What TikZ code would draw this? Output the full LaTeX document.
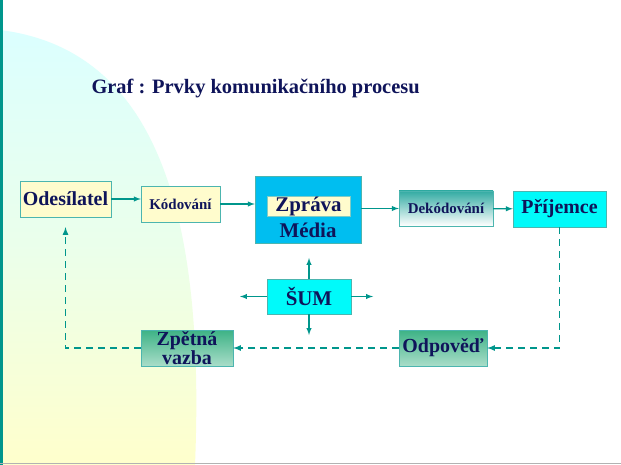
\documentclass[tikz,border=0pt]{standalone}
\usepackage{fontspec}
\setmainfont{Liberation Serif}
\usetikzlibrary{calc,positioning}
\definecolor{navy}{RGB}{15,20,90}
\definecolor{tealline}{RGB}{0,150,140}
\definecolor{paleyel}{RGB}{255,252,205}
\definecolor{media}{RGB}{0,190,240}
\definecolor{aqua}{RGB}{0,250,250}
\definecolor{greenbox}{RGB}{40,170,120}
\tikzset{
  box/.style={draw=tealline!70,font=\bfseries,text=navy,inner sep=1pt,minimum height=36bp},
  arr/.style={draw=tealline,line width=1.4pt,-latex},
  back/.style={arr,line width=1.6pt,dash pattern=on 7pt off 5pt}
}
\begin{document}
\begin{tikzpicture}[x=1bp,y=-1bp]
\useasboundingbox (0,0) rectangle (621,465);
\fill[white] (0,0) rectangle (621,465);
\shade[top color=cyan!14,bottom color=yellow!20,middle color=green!8]
  (0,30) .. controls (160,50) and (205,220) .. (195,465) -- (0,465) -- cycle;
\fill[tealline] (0,0) rectangle (3,465);
\draw[gray!60] (0,463) -- (621,463);
\node[anchor=west,font=\bfseries\fontsize{20.5}{22}\selectfont,text=navy] (title) at (88,89) {Graf : Prvky komunikačního procesu};
% top row
\node[box,fill=paleyel,minimum width=91bp,font=\bfseries\fontsize{20}{22}\selectfont] (odes) at (65.5,199) {Odesílatel};
\node[box,fill=paleyel,minimum width=79bp,font=\bfseries\fontsize{15}{17}\selectfont] (kod) at (180.5,204) {Kódování};
\node[box,fill=media,minimum width=106bp,minimum height=67bp] (zm) at (308,209.5) {};
\node[draw=tealline!50,fill=paleyel,minimum width=83bp,minimum height=20bp,inner sep=0pt,font=\bfseries\fontsize{21}{23}\selectfont,text=navy] (zpr) at (308.5,206) {Zpráva};
\node[font=\bfseries\fontsize{21}{23}\selectfont,text=navy] (med) at (308,230) {Média};
\node[box,top color=tealline!80,bottom color=white,minimum width=94bp,minimum height=35bp,font=\bfseries\fontsize{15}{17}\selectfont] (dek) at (446,208.5) {Dekódování};
\node[box,fill=aqua,minimum width=93bp,font=\bfseries\fontsize{20}{22}\selectfont] (pri) at (559.5,209) {Příjemce};
% noise
\node[box,fill=aqua,minimum width=84bp,minimum height=35bp,font=\bfseries\fontsize{21}{23}\selectfont] (sum) at (309,296.5) {ŠUM};
\coordinate (sumN) at (309,258);
\coordinate (sumS) at (309,335);
\coordinate (sumW) at (240,296.5);
\coordinate (sumE) at (373,296.5);
% bottom row
\node[box,top color=greenbox!90,bottom color=greenbox!40,minimum width=92bp,align=center,font=\bfseries\fontsize{20}{15}\selectfont] (zpet) at (187,348) {Zpětná\\vazba};
\node[box,top color=greenbox!90,bottom color=greenbox!40,minimum width=88bp,font=\bfseries\fontsize{20}{22}\selectfont] (odp) at (443,348) {Odpověď};
\coordinate (c1) at (pri.south |- odp.east);
\coordinate (c2) at (odes.south |- zpet.west);
% arrows
\draw[arr] (odes) -- (kod.west |- odes);
\draw[arr] (kod) -- (zm.west |- kod);
\draw[arr] (zm.east |- dek) -- (dek);
\draw[arr] (dek) -- (pri);
\draw[arr] (sum) -- (sumN);
\draw[arr] (sum) -- (sumS);
\draw[arr] (sum) -- (sumW);
\draw[arr] (sum) -- (sumE);
\draw[back] (pri.south) -- (c1) -- (odp.east);
\draw[back] (odp) -- (zpet);
\draw[back] (zpet.west) -- (c2) -- ([yshift=-10bp]odes.south);
\end{tikzpicture}
\end{document}
